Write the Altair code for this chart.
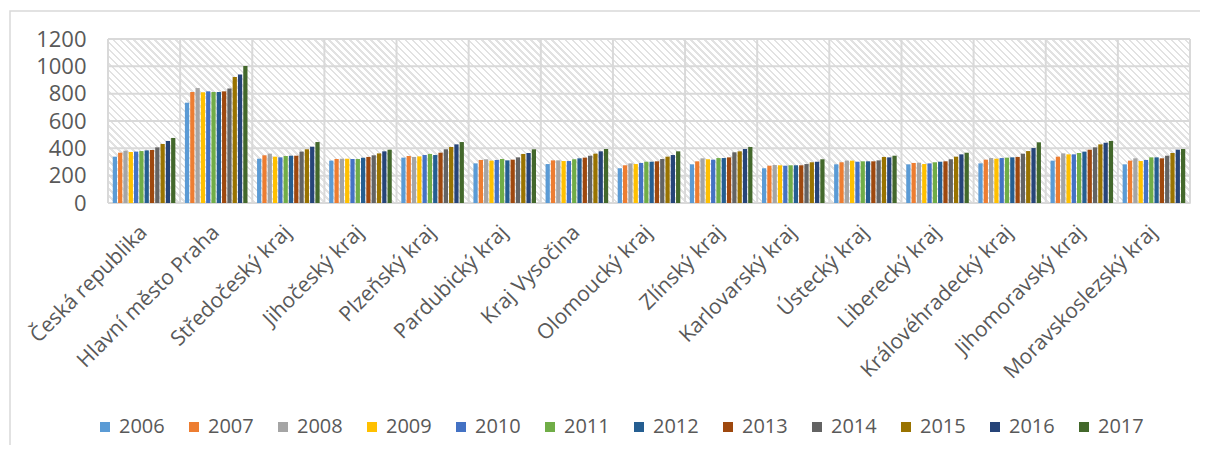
import altair as alt
import pandas as pd

regions = ["Česká republika", "Hlavní město Praha", "Středočeský kraj", "Jihočeský kraj",
           "Plzeňský kraj", "Pardubický kraj", "Kraj Vysočina", "Olomoucký kraj",
           "Zlínský kraj", "Karlovarský kraj", "Ústecký kraj", "Liberecký kraj",
           "Královéhradecký kraj", "Jihomoravský kraj", "Moravskoslezský kraj"]
years = ["2006", "2007", "2008", "2009", "2010", "2011", "2012", "2013", "2014", "2015", "2016", "2017"]
colors = ["#5B9BD5", "#ED7D31", "#A5A5A5", "#FFC000", "#4472C4", "#70AD47",
          "#255E91", "#9E480E", "#636363", "#997300", "#264478", "#43682B"]

cr = [339, 368, 383, 373, 376, 380, 385, 388, 407, 432, 454, 476]
praha = [734, 812, 841, 810, 817, 812, 812, 817, 837, 922, 941, 1002]
stredocesky = [324, 349, 361, 339, 334, 344, 346, 346, 376, 393, 412, 446]
jihocesky = [310, 322, 324, 324, 322, 322, 332, 337, 349, 363, 378, 390]
plzensky = [332, 344, 337, 341, 351, 359, 351, 368, 393, 410, 429, 446]
pardubicky = [290, 315, 320, 310, 315, 322, 312, 317, 334, 359, 366, 393]
vysocina = [285, 312, 312, 307, 307, 320, 327, 332, 346, 361, 378, 395]
olomoucky = [254, 276, 290, 285, 293, 302, 302, 305, 322, 339, 351, 378]
zlinsky = [283, 305, 327, 320, 317, 329, 329, 334, 371, 378, 395, 410]
karlovarsky = [254, 273, 278, 276, 273, 276, 276, 276, 285, 298, 302, 320]
ustecky = [283, 298, 310, 310, 302, 305, 305, 305, 312, 337, 334, 346]
liberecky = [283, 293, 295, 285, 290, 298, 302, 305, 320, 339, 356, 368]
kralovehradecky = [290, 317, 329, 324, 329, 332, 334, 337, 361, 380, 402, 444]
jihomoravsky = [310, 339, 363, 356, 356, 366, 376, 390, 407, 429, 441, 454]
moravskoslezsky = [283, 310, 327, 307, 315, 334, 334, 327, 346, 366, 390, 395]

series = [cr, praha, stredocesky, jihocesky, plzensky, pardubicky, vysocina, olomoucky,
          zlinsky, karlovarsky, ustecky, liberecky, kralovehradecky, jihomoravsky, moravskoslezsky]
y_ticks = [0, 200, 400, 600, 800, 1000, 1200]

rows = []
for reg, vals in zip(regions, series):
    for yr, v in zip(years, vals):
        rows.append({"kraj": reg, "rok": yr, "hdp": v})
df = pd.DataFrame(rows)

W, H = 1082, 164
FONT = "Open Sans"
GRID = "#d9d9d9"
TXT = "#595959"

# diagonal hatch of the plot area as a striped linear gradient (styling only)
r = H / W
s = (1 + r) / (1 + r * r)
period = 7.0
n_stripes = int((W + H) / period) + 1
frac = 0.35
stops = []
for i in range(n_stripes):
    a = i / n_stripes
    b = (i + frac) / n_stripes
    c = (i + 1) / n_stripes
    stops += [alt.GradientStop(offset=a, color="#e2e2e2"),
              alt.GradientStop(offset=min(b, 1), color="#e2e2e2"),
              alt.GradientStop(offset=min(b, 1), color="#ffffff"),
              alt.GradientStop(offset=min(c, 1), color="#ffffff")]
hatch = alt.Gradient(gradient="linear", stops=stops, x1=0, y1=1, x2=s, y2=1 - s * r)

xscale = alt.Scale(domain=regions, paddingInner=0, paddingOuter=0)
yscale = alt.Scale(domain=[0, 1200])

xaxis = alt.Axis(labelAngle=-45, labelAlign="right", labelBaseline="middle",
                 labelFontSize=21, labelFont=FONT, labelColor=TXT, labelPadding=26,
                 ticks=False, domain=False, grid=False, labelLimit=0, labelOverlap=False)
yaxis = alt.Axis(values=y_ticks, format="d", labelFontSize=22, labelFont=FONT, labelColor=TXT,
                 labelPadding=22, ticks=False, domain=False, grid=False)

frame = alt.Chart(pd.DataFrame({"f": [0]})).mark_rect(
    fillOpacity=0, stroke=GRID, strokeWidth=1.5
).encode(x=alt.value(-98), x2=alt.value(1300), y=alt.value(-28), y2=alt.value(600))

bg = alt.Chart(pd.DataFrame({"f": [0]})).mark_rect(fill=hatch).encode(
    x=alt.value(0), x2=alt.value("width"), y=alt.value(0), y2=alt.value("height"))

hgrid = alt.Chart(pd.DataFrame({"hdp": y_ticks})).mark_rule(color=GRID, strokeWidth=2).encode(
    y=alt.Y("hdp:Q", scale=yscale, title=None, axis=yaxis))

vgrid = alt.Chart(pd.DataFrame({"kraj": regions})).mark_rule(color=GRID, strokeWidth=2).encode(
    x=alt.X("kraj:N", scale=xscale, bandPosition=0, title=None, axis=xaxis))

vedge = alt.Chart(pd.DataFrame({"f": [0]})).mark_rule(color=GRID, strokeWidth=2).encode(
    x=alt.value("width"))

bars = alt.Chart(df).mark_bar().encode(
    x=alt.X("kraj:N", scale=xscale, title=None, axis=xaxis),
    xOffset=alt.XOffset("rok:N", sort=years, scale=alt.Scale(paddingInner=0.2, paddingOuter=0.9)),
    y=alt.Y("hdp:Q", scale=yscale, title=None, axis=yaxis),
    color=alt.Color("rok:N", sort=years, scale=alt.Scale(domain=years, range=colors),
                    legend=alt.Legend(title=None, orient="none", legendX=-13, legendY=378,
                                      direction="horizontal", columns=12, symbolType="square",
                                      symbolSize=100, symbolStrokeWidth=0, labelFontSize=20,
                                      labelFont=FONT, labelColor=TXT, columnPadding=19,
                                      labelOffset=4, padding=0)),
)

chart = alt.layer(frame, bg, hgrid, vgrid, vedge, bars).properties(
    width=W, height=H,
    padding={"left": 100, "top": 31, "right": 10, "bottom": 242},
    autosize=alt.AutoSizeParams(type="none"),
).configure_view(stroke=None).configure(font=FONT)

chart.save("out.html", embed_options={"renderer": "svg", "actions": False})
